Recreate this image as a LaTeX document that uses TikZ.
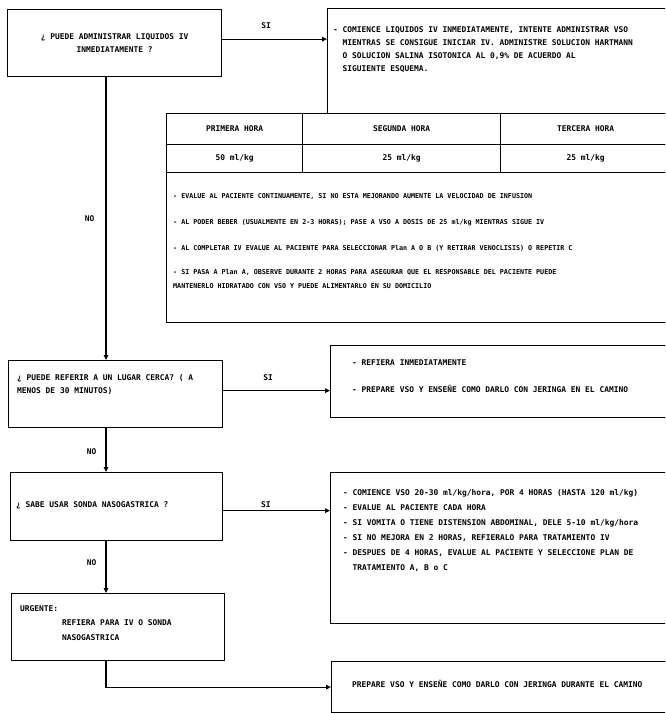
\documentclass[tikz,border=0pt]{standalone}
\usepackage{fontspec}
\newfontfamily\flowfont{DejaVu Sans Mono}
\usetikzlibrary{arrows.meta}

\begin{document}
\begin{tikzpicture}[x=1pt, y=-1pt,
  font=\flowfont\bfseries\fontsize{7.9}{13}\selectfont,
  box/.style={draw, line width=1.2pt, anchor=north west, inner sep=0pt},
  txt/.style={anchor=north west, align=left, inner sep=0pt},
  arr/.style={line width=1.1pt, -{Triangle[length=5pt, width=4.5pt]}},
  lbl/.style={inner sep=1pt},
]
\useasboundingbox (0,0) rectangle (665,713);
\clip (0,0) rectangle (665,713);

% questions on the left
\node[box, minimum width=214pt, minimum height=67pt, align=center] (q1) at (7,9)
  {¿ PUEDE ADMINISTRAR LIQUIDOS IV\\INMEDIATAMENTE ?};
\node[box, minimum width=214pt, minimum height=67pt] (q3) at (8,360) {};
\node[txt] (q3t) at (17,374) {¿ PUEDE REFERIR A UN LUGAR CERCA? ( A\\MENOS DE 30 MINUTOS)};
\node[box, minimum width=212pt, minimum height=68pt] (q5) at (10,472) {};
\node[anchor=west, inner sep=0pt] (q5t) at (16,505) {¿ SABE USAR SONDA NASOGASTRICA ?};
\node[box, minimum width=213pt, minimum height=67pt] (q7) at (11,593) {};
\node[txt, font=\flowfont\bfseries\fontsize{7.9}{14.5}\selectfont] (q7t) at (20,605)
  {URGENTE:\\\hspace*{42pt}REFIERA PARA IV O SONDA\\\hspace*{42pt}NASOGASTRICA};

% answers on the right
\node[box, minimum width=360pt, minimum height=105pt] (a1) at (327,8) {};
\node[txt] (a1t) at (333,26)
  {- COMIENCE LIQUIDOS IV INMEDIATAMENTE, INTENTE ADMINISTRAR VSO\\
   \phantom{- }MIENTRAS SE CONSIGUE INICIAR IV. ADMINISTRE SOLUCION HARTMANN\\
   \phantom{- }O SOLUCION SALINA ISOTONICA AL 0,9\% DE ACUERDO AL\\
   \phantom{- }SIGUIENTE ESQUEMA.};

\foreach \x/\w/\h/\v [count=\i] in {166/136/PRIMERA/50, 302/198/SEGUNDA/25, 500/170/TERCERA/25} {
  \node[box, minimum width=\w pt, minimum height=31pt] (h\i) at (\x,113) {\h\ HORA};
  \node[box, minimum width=\w pt, minimum height=28pt] (v\i) at (\x,144) {\v\ ml/kg};
}
\node[box, minimum width=514pt, minimum height=150pt] (nb) at (166,172) {};
\node[txt, font=\flowfont\bfseries\fontsize{6.7}{14}\selectfont] (nbt) at (173,193)
  {- EVALUE AL PACIENTE CONTINUAMENTE, SI NO ESTA MEJORANDO AUMENTE LA VELOCIDAD DE INFUSION\\[12pt]
   - AL PODER BEBER (USUALMENTE EN 2-3 HORAS); PASE A VSO A DOSIS DE 25 ml/kg MIENTRAS SIGUE IV\\[12pt]
   - AL COMPLETAR IV EVALUE AL PACIENTE PARA SELECCIONAR Plan A O B (Y RETIRAR VENOCLISIS) O REPETIR C\\[10pt]
   - SI PASA A Plan A, OBSERVE DURANTE 2 HORAS PARA ASEGURAR QUE EL RESPONSABLE DEL PACIENTE PUEDE\\
   MANTENERLO HIDRATADO CON VSO Y PUEDE ALIMENTARLO EN SU DOMICILIO};

\node[box, minimum width=350pt, minimum height=72pt] (a4) at (330,345) {};
\node[txt] (a4t) at (352,360)
  {- REFIERA INMEDIATAMENTE\\[14pt]- PREPARE VSO Y ENSEÑE COMO DARLO CON JERINGA EN EL CAMINO};

\node[box, minimum width=350pt, minimum height=151pt] (a6) at (330,472) {};
\node[txt, font=\flowfont\bfseries\fontsize{7.9}{15}\selectfont] (a6t) at (343,489)
  {- COMIENCE VSO 20-30 ml/kg/hora, POR 4 HORAS (HASTA 120 ml/kg)\\
   - EVALUE AL PACIENTE CADA HORA\\
   - SI VOMITA O TIENE DISTENSION ABDOMINAL, DELE 5-10 ml/kg/hora\\
   - SI NO MEJORA EN 2 HORAS, REFIERALO PARA TRATAMIENTO IV\\
   - DESPUES DE 4 HORAS, EVALUE AL PACIENTE Y SELECCIONE PLAN DE\\
   \phantom{- }TRATAMIENTO A, B o C};

\node[box, minimum width=350pt, minimum height=51pt] (a8) at (331,661) {};
\node[anchor=west, inner sep=0pt] (a8t) at (352,684)
  {PREPARE VSO Y ENSEÑE COMO DARLO CON JERINGA DURANTE EL CAMINO};

% connectors
\coordinate (spine) at (106,0);
\draw[arr] ([yshift=4pt]q1.east) -- node[lbl, above=9pt, pos=0.42] {SI} ([yshift=4pt]q1.east -| a1.west);
\draw[arr] ([yshift=3.5pt]q3.east) -- node[lbl, above=8pt, pos=0.42] {SI} ([yshift=3.5pt]q3.east -| a4.west);
\draw[arr] ([yshift=-4pt]q5.east) -- node[lbl, above=1pt, pos=0.4] {SI} ([yshift=-4pt]q5.east -| a6.west);
\draw[arr] (q1.south -| spine) -- node[lbl, left=10pt, pos=0.5] {NO} (q3.north -| spine);
\draw[arr] (q3.south -| spine) -- node[lbl, left=8pt, pos=0.53] {NO} (q5.north -| spine);
\draw[arr] (q5.south -| spine) -- node[lbl, left=8pt, pos=0.42] {NO} (q7.north -| spine);
\draw[arr] (q7.south -| spine) |- (a8.west);
\end{tikzpicture}
\end{document}
